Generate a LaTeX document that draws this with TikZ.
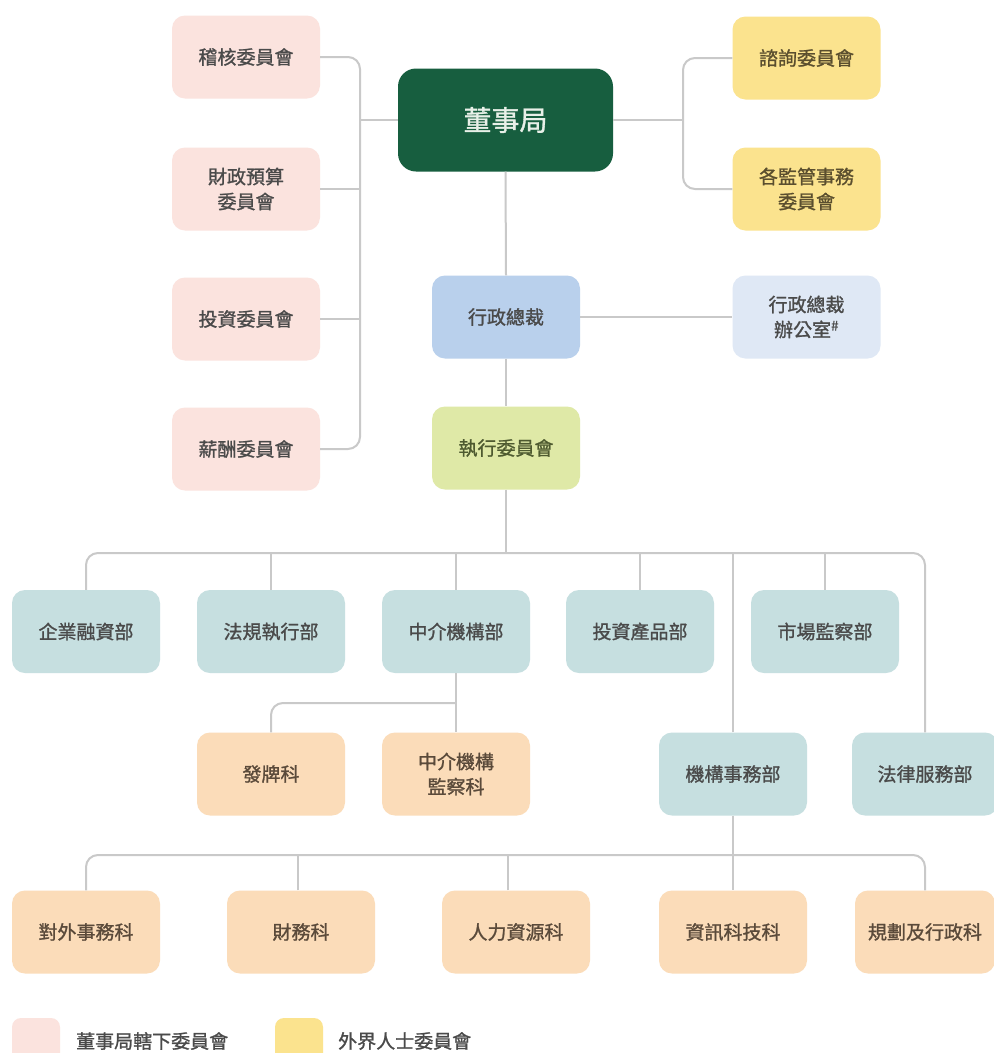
\documentclass[tikz,border=0pt]{standalone}
\usepackage{fontspec}
\newfontfamily\cjk[FakeBold=1.2]{Noto Sans CJK TC}
\usetikzlibrary{calc}
\definecolor{linegray}{HTML}{C9C9C9}
\definecolor{txtgray}{HTML}{4A4A4A}
\definecolor{pinkbox}{HTML}{FBE3DE}
\definecolor{boardgreen}{HTML}{175E3F}
\definecolor{yellowbox}{HTML}{FBE38E}
\definecolor{offblue}{HTML}{DFE8F5}
\definecolor{ceoblue}{HTML}{B9D0EC}
\definecolor{excogreen}{HTML}{DFE9A7}
\definecolor{deptteal}{HTML}{C6DFE0}
\definecolor{secorange}{HTML}{FBDCB9}
\definecolor{yeltxt}{HTML}{5A4E2E}
\definecolor{exctxt}{HTML}{4E5A30}
\definecolor{ortxt}{HTML}{5A4A3A}
\definecolor{boardtxt}{HTML}{E8F0E8}
\tikzset{
  box/.style={rectangle, rounded corners=13pt, minimum width=148pt, minimum height=83pt,
    inner sep=0pt, align=center, text=txtgray, font=\cjk\fontsize{19}{25}\selectfont},
  conn/.style={draw=linegray, line width=2pt},
  legsq/.style={rectangle, rounded corners=9pt, minimum width=48pt, minimum height=48pt, inner sep=0pt},
  legtxt/.style={anchor=west, inner sep=0pt, text=txtgray, font=\cjk\fontsize{19}{25}\selectfont}
}
\begin{document}
\begin{tikzpicture}[x=1pt,y=-1pt]
\useasboundingbox[fill=white] (0,0) rectangle (994,1053);
% board committees
\node[box, fill=pinkbox] (audit) at (246,57) {稽核委員會};
\node[box, fill=pinkbox] (finance) at (246,189) {財政預算\\委員會};
\node[box, fill=pinkbox] (invest) at (246,319) {投資委員會};
\node[box, fill=pinkbox] (remun) at (246,449) {薪酬委員會};
% board
\node[box, fill=boardgreen, minimum width=215pt, minimum height=103pt, rounded corners=18pt,
  text=boardtxt, font=\cjk\fontsize{28}{32}\selectfont] (board) at (505.5,120) {董事局};
% outside committees
\node[box, fill=yellowbox, text=yeltxt] (consult) at (806.5,58) {諮詢委員會};
\node[box, fill=yellowbox, text=yeltxt] (regaff) at (806.5,189) {各監管事務\\委員會};
% CEO
\node[box, fill=ceoblue] (ceo) at (506,317) {行政總裁};
\node[box, fill=offblue] (ceooff) at (806.5,317) {行政總裁\\辦公室\textsuperscript{\#}};
\node[box, fill=excogreen, text=exctxt] (exco) at (506,448) {執行委員會};
% departments
\node[box, fill=deptteal] (d1) at (86,631.5) {企業融資部};
\node[box, fill=deptteal] (d2) at (271,631.5) {法規執行部};
\node[box, fill=deptteal] (d3) at (456,631.5) {中介機構部};
\node[box, fill=deptteal] (d4) at (640,631.5) {投資產品部};
\node[box, fill=deptteal] (d5) at (825,631.5) {市場監察部};
\node[box, fill=secorange, text=ortxt] (lic) at (271,774) {發牌科};
\node[box, fill=secorange, text=ortxt] (imsec) at (456,774) {中介機構\\監察科};
\node[box, fill=deptteal] (corp) at (733,774) {機構事務部};
\node[box, fill=deptteal, minimum width=146pt] (legal) at (925,774) {法律服務部};
% sections
\node[box, fill=secorange, text=ortxt] (b1) at (86,932) {對外事務科};
\node[box, fill=secorange, text=ortxt] (b2) at (301,932) {財務科};
\node[box, fill=secorange, text=ortxt] (b3) at (516,932) {人力資源科};
\node[box, fill=secorange, text=ortxt] (b4) at (733,932) {資訊科技科};
\node[box, fill=secorange, text=ortxt, minimum width=140pt] (b5) at (925,932) {規劃及行政科};
% coordinates
\coordinate (lb) at (360,120);
\coordinate (rb) at (683,120);
\coordinate (hb) at (506,553);
\coordinate (sb) at (456,703);
\coordinate (bb) at (733,855);
% connectors
\draw[conn, rounded corners=12pt] (audit.east) -| (lb) |- (remun.east);
\draw[conn] (finance.east) -- (finance.east -| lb);
\draw[conn] (invest.east) -- (invest.east -| lb);
\draw[conn] (board.west) -- (board.west -| lb);
\draw[conn, rounded corners=12pt] (consult.west) -| (rb) |- (regaff.west);
\draw[conn] (board.east) -- (board.east -| rb);
\draw[conn] (board.south) -- (ceo.north);
\draw[conn] (ceo.east) -- (ceooff.west);
\draw[conn] (ceo.south) -- (exco.north);
\draw[conn] (exco.south) -- (hb);
\draw[conn, rounded corners=12pt] (d1.north) |- (hb) -| (legal.north);
\draw[conn] (d2.north) -- (d2.north |- hb);
\draw[conn] (d3.north) -- (d3.north |- hb);
\draw[conn] (d4.north) -- (d4.north |- hb);
\draw[conn] (d5.north) -- (d5.north |- hb);
\draw[conn] (corp.north) -- (corp.north |- hb);
\draw[conn] (d3.south) -- (imsec.north);
\draw[conn, rounded corners=12pt] (lic.north) |- (sb);
\draw[conn] (corp.south) -- (b4.north);
\draw[conn, rounded corners=12pt] (b1.north) |- (bb) -| (b5.north);
\draw[conn] ([xshift=-3pt]b2.north) -- ([xshift=-3pt]b2.north |- bb);
\draw[conn] ([xshift=-8pt]b3.north) -- ([xshift=-8pt]b3.north |- bb);
% legend
\node[legsq, fill=pinkbox] (lg1) at (36,1042) {};
\node[legtxt] (lt1) at (76,1041) {董事局轄下委員會};
\node[legsq, fill=yellowbox] (lg2) at (299,1042) {};
\node[legtxt] (lt2) at (338,1041) {外界人士委員會};
\end{tikzpicture}
\end{document}
